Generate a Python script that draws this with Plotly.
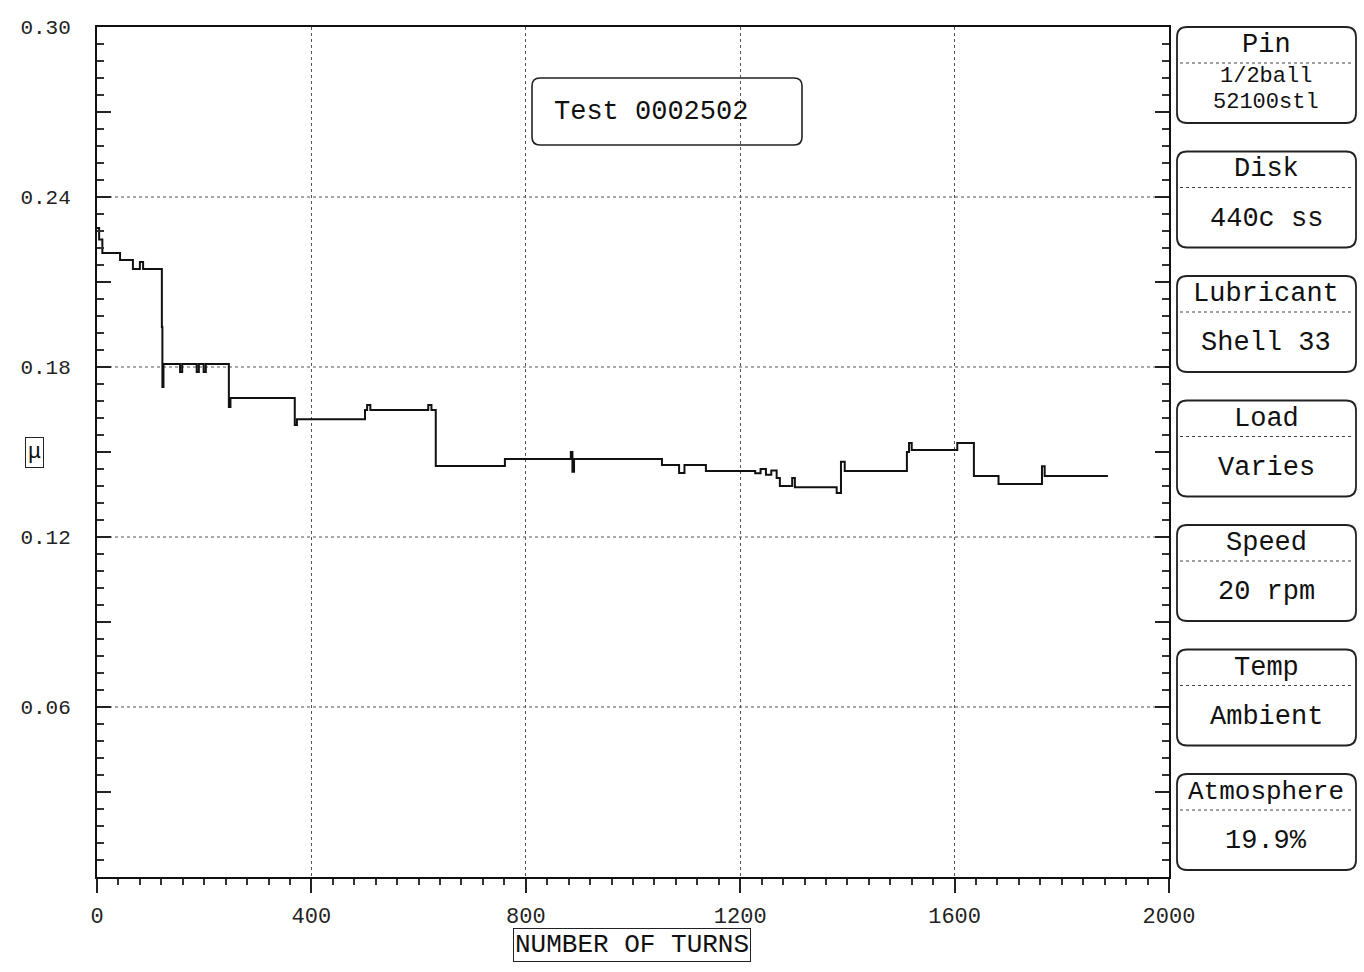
import plotly.graph_objects as go

# ---- data (step changes: turns, friction coefficient) ----
turns = [0, 4, 10, 43, 67, 80, 86, 121, 122, 124, 155, 159, 186, 190, 199, 203,
         246, 249, 369, 373, 500, 504, 510, 618, 624, 632, 761, 884, 887, 890,
         1054, 1086, 1096, 1136, 1228, 1238, 1248, 1258, 1268, 1274, 1297, 1302,
         1380, 1388, 1395, 1511, 1515, 1520, 1605, 1636, 1682, 1763, 1768, 1886]
mu = [0.2291, 0.2250, 0.2202, 0.2178, 0.2146, 0.2171, 0.2146, 0.1941, 0.1729, 0.1811,
      0.1782, 0.1811, 0.1782, 0.1811, 0.1782, 0.1811, 0.1659, 0.1691, 0.1595, 0.1616,
      0.1648, 0.1666, 0.1648, 0.1666, 0.1648, 0.1451, 0.1475, 0.1500, 0.1430, 0.1475,
      0.1454, 0.1426, 0.1454, 0.1433, 0.1425, 0.1440, 0.1420, 0.1435, 0.1408, 0.1380,
      0.1408, 0.1376, 0.1355, 0.1466, 0.1433, 0.1500, 0.1532, 0.1507, 0.1532, 0.1415,
      0.1387, 0.1450, 0.1415, 0.1415]

x_ticks = [0, 400, 800, 1200, 1600, 2000]
y_ticks = [0.03, 0.06, 0.09, 0.12, 0.15, 0.18, 0.21, 0.24, 0.27, 0.30]
y_ticktext = ["", "0.06", "", "0.12", "", "0.18", "", "0.24", "", "0.30"]
y_grid = [0.06, 0.12, 0.18, 0.24]

panel_heads = ["Pin", "Disk", "Lubricant", "Load", "Speed", "Temp", "Atmosphere"]
panel_values = [["1/2ball", "52100stl"], ["440c ss"], ["Shell 33"], ["Varies"], ["20 rpm"],
                ["Ambient"], ["19.9%"]]
test_label = "Test 0002502"

FONT = "Liberation Mono"
L, R, T, B = 97, 195, 27, 95
W, H = 1364, 972
PW, PH = W - L - R, H - T - B


def px(xp):
    return (xp - L) / PW


def py(yp):
    return (H - B - yp) / PH


def rrect(x0, y0, x1, y1, r=8):
    X0, X1 = px(x0), px(x1)
    Y0, Y1 = py(y0), py(y1)  # Y0 top (larger), Y1 bottom
    rx, ry = r / PW, r / PH
    return (f"M {X0+rx},{Y0} L {X1-rx},{Y0} Q {X1},{Y0} {X1},{Y0-ry} "
            f"L {X1},{Y1+ry} Q {X1},{Y1} {X1-rx},{Y1} L {X0+rx},{Y1} "
            f"Q {X0},{Y1} {X0},{Y1+ry} L {X0},{Y0-ry} Q {X0},{Y0} {X0+rx},{Y0} Z")


def note(x, y, text, size, **kw):
    d = dict(xref="paper", yref="paper", x=px(x), y=py(y), text=text, showarrow=False,
             xanchor="center", yanchor="middle", font=dict(family=FONT, size=size, color="#111"))
    d.update(kw)
    return d


fig = go.Figure()
fig.add_trace(go.Scatter(x=turns, y=mu, mode="lines", line=dict(color="#111", width=2, shape="hv"),
                         showlegend=False, hoverinfo="skip"))

shapes = []
for g in y_grid:
    shapes.append(dict(type="line", xref="paper", yref="y", x0=0, x1=1, y0=g, y1=g,
                       line=dict(color="#555", width=1.2, dash="dot"), layer="below"))

annotations = []
# test box
shapes.append(dict(type="path", xref="paper", yref="paper", path=rrect(532, 78, 802, 145),
                   line=dict(color="#222", width=1.6)))
annotations.append(note(651, 112, test_label, 27))

# right panels
top0, step, bh = 27, 124.5, 96
for i, (h, v) in enumerate(zip(panel_heads, panel_values)):
    t = top0 + i * step
    shapes.append(dict(type="path", xref="paper", yref="paper", path=rrect(1177, t, 1356, t + bh, 10),
                       line=dict(color="#222", width=1.8)))
    shapes.append(dict(type="line", xref="paper", yref="paper", x0=px(1180), x1=px(1353),
                       y0=py(t + 36), y1=py(t + 36), line=dict(color="#444", width=1.2, dash="dot")))
    annotations.append(note(1266, t + 18, h, 27 if len(h) < 10 else 26))
    if len(v) == 2:
        annotations.append(note(1266, t + 49, v[0], 22, height=24))
        annotations.append(note(1266, t + 75, v[1], 22, height=24))
    else:
        annotations.append(note(1266, t + 67, v[0], 27))

# axis titles (boxed)
annotations.append(note(34, 452, "μ", 22, bordercolor="#222", borderwidth=1, borderpad=2))
annotations.append(note(632, 945, "NUMBER OF TURNS", 26, bordercolor="#222", borderwidth=1, borderpad=1))

fig.update_layout(
    width=W, height=H, margin=dict(l=L, r=R, t=T, b=B),
    paper_bgcolor="white", plot_bgcolor="white",
    shapes=shapes, annotations=annotations,
    font=dict(family=FONT, color="#111"),
    xaxis=dict(range=[0, 2000], tickvals=x_ticks, ticks="outside", ticklen=14, tickwidth=1.5,
               tickcolor="#222", showgrid=True, gridcolor="#555", griddash="dot", gridwidth=1.2,
               showline=True, linecolor="#111", linewidth=2, mirror=True, zeroline=False,
               tickfont=dict(family=FONT, size=22, color="#222"), ticklabelstandoff=4,
               minor=dict(dtick=40, ticks="outside", ticklen=6, tickcolor="#333", showgrid=False)),
    yaxis=dict(range=[0, 0.30], tickvals=y_ticks, ticktext=y_ticktext, ticks="inside", ticklen=14,
               tickwidth=1.5, tickcolor="#222", showgrid=False, showline=True, linecolor="#111",
               linewidth=2, mirror="ticks", zeroline=False,
               tickfont=dict(family=FONT, size=21, color="#222"), ticklabelstandoff=20,
               minor=dict(dtick=0.006, ticks="inside", ticklen=7, tickcolor="#333", showgrid=False)),
)

fig.write_html("out.html")
